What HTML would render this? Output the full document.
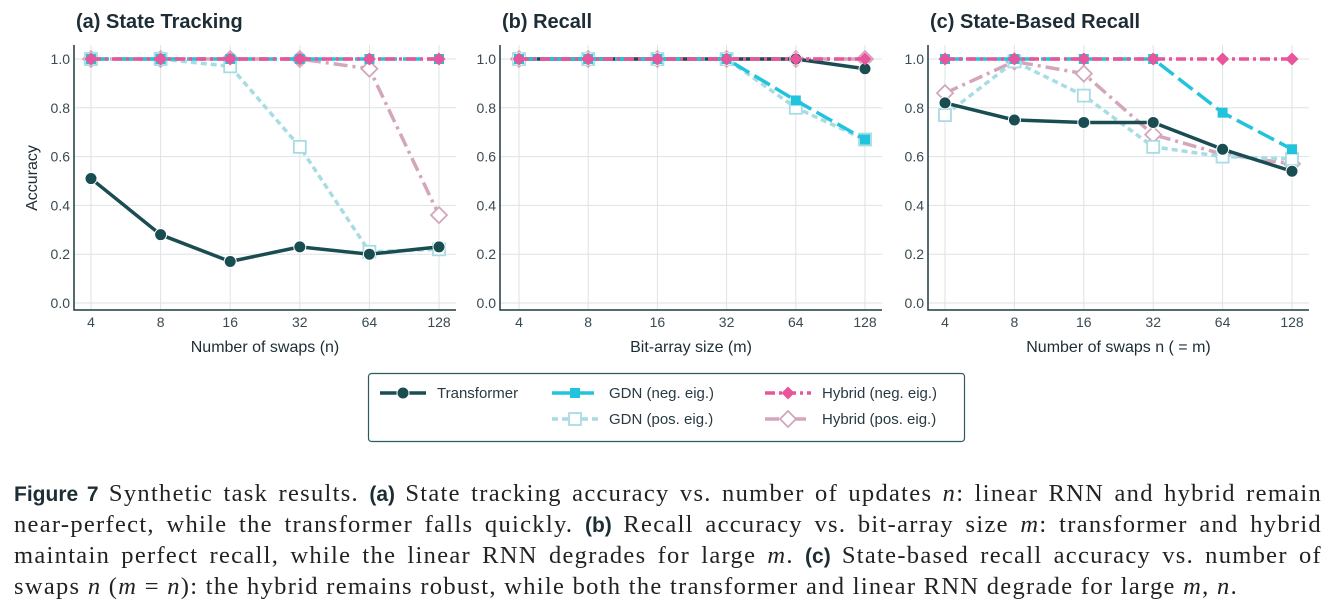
<!DOCTYPE html>
<html><head><meta charset="utf-8">
<style>
body{margin:0;background:#fff;width:1335px;height:608px;overflow:hidden;position:relative;font-family:"Liberation Sans",sans-serif;}
svg{position:absolute;left:0;top:0}
.cap{position:absolute;left:14px;width:1308px;font-family:"Liberation Serif",serif;font-size:24.5px;letter-spacing:1.3px;color:#222;white-space:nowrap;line-height:31px}
.j{text-align:justify;text-align-last:justify;white-space:normal;}
.b{font-family:"Liberation Sans",sans-serif;font-weight:bold;color:#1d2d35;font-size:21px;letter-spacing:0}
i{font-style:italic}
</style></head><body>
<svg id="chart" width="1335" height="608"></svg>
<div class="cap j" style="top:478px"><span class="b">Figure 7</span> Synthetic task results. <span class="b">(a)</span> State tracking accuracy vs. number of updates <i>n</i>: linear RNN and hybrid remain</div>
<div class="cap j" style="top:509px">near-perfect, while the transformer falls quickly. <span class="b">(b)</span> Recall accuracy vs. bit-array size <i>m</i>: transformer and hybrid</div>
<div class="cap j" style="top:540px">maintain perfect recall, while the linear RNN degrades for large <i>m</i>. <span class="b">(c)</span> State-based recall accuracy vs. number of</div>
<div class="cap" style="top:571px">swaps <i>n</i> (<i>m</i> = <i>n</i>): the hybrid remains robust, while both the transformer and linear RNN degrade for large <i>m</i>, <i>n</i>.</div>
<script>
const categories=["4","8","16","32","64","128"];
const yTicks=[0,0.2,0.4,0.6,0.8,1.0];
const titles=["(a) State Tracking","(b) Recall","(c) State-Based Recall"];
const xTitles=["Number of swaps (n)","Bit-array size (m)","Number of swaps n ( = m)"];
const transformerA=[0.51,0.28,0.17,0.23,0.20,0.23];
const gdnNegA=[1,1,1,1,1,1];
const gdnPosA=[1,1,0.97,0.64,0.21,0.22];
const hybNegA=[1,1,1,1,1,1];
const hybPosA=[1,1,1,1,0.96,0.36];
const transformerB=[1,1,1,1,1,0.96];
const gdnNegB=[1,1,1,1,0.83,0.67];
const gdnPosB=[1,1,1,1,0.80,0.67];
const hybNegB=[1,1,1,1,1,1];
const hybPosB=[1,1,1,1,1,1];
const transformerC=[0.82,0.75,0.74,0.74,0.63,0.54];
const gdnNegC=[1,1,1,1,0.78,0.63];
const gdnPosC=[0.77,0.99,0.85,0.64,0.60,0.59];
const hybNegC=[1,1,1,1,1,1];
const hybPosC=[0.86,0.99,0.94,0.69,0.61,0.57];

const NS="http://www.w3.org/2000/svg";
const svg=document.getElementById('chart');
function el(t,a,p){const e=document.createElementNS(NS,t);for(const k in a)e.setAttribute(k,a[k]);(p||svg).appendChild(e);return e;}
const panels=[{l:74,r:456,x0:91,x1:439},{l:500,r:882,x0:519,x1:865},{l:928,r:1309,x0:945,x1:1292}];
const seriesDefs=[
 {name:'hybrid-pos',color:'#d3a6bb',dash:'14,5,3,5',marker:'odiamond'},
 {name:'gdn-pos',color:'#a8dce3',dash:'6,4',marker:'osquare'},
 {name:'transformer',color:'#1a4d52',dash:'',marker:'circle'},
 {name:'gdn-neg',color:'#22c3dc',dash:'18,6',marker:'square'},
 {name:'hybrid-neg',color:'#e8559a',dash:'10,4,3,4',marker:'diamond'}];
const data=[[hybPosA,gdnPosA,transformerA,gdnNegA,hybNegA],[hybPosB,gdnPosB,transformerB,gdnNegB,hybNegB],[hybPosC,gdnPosC,transformerC,gdnNegC,hybNegC]];
function marker(g,m,x,y,c){
 let e;
 if(m==='circle')e=el('circle',{cx:x,cy:y,r:6,fill:c,stroke:'#fff','stroke-width':1},g);
 else if(m==='square')e=el('rect',{x:x-5,y:y-5,width:10,height:10,fill:c},g);
 else if(m==='osquare')e=el('rect',{x:x-6,y:y-6,width:12,height:12,fill:'#fff',stroke:c,'stroke-width':1.8},g);
 else if(m==='diamond')e=el('path',{d:`M${x} ${y-6.5}L${x+6.5} ${y}L${x} ${y+6.5}L${x-6.5} ${y}Z`,fill:c},g);
 else e=el('path',{d:`M${x} ${y-8}L${x+8} ${y}L${x} ${y+8}L${x-8} ${y}Z`,fill:'#fff',stroke:c,'stroke-width':1.8},g);
 
 
}
panels.forEach((p,pi)=>{
 const g=el('g',{});
 
 
 const yS=v=>303-v*244;
 const xS=i=>p.x0+(p.x1-p.x0)*i/(categories.length-1);
 yTicks.forEach(t=>{
  el('line',{x1:p.l,x2:p.r,y1:yS(t),y2:yS(t),stroke:'#dde3e6','stroke-width':1},g);
  const tx=el('text',{x:p.l-4,y:yS(t)+5,'text-anchor':'end','font-size':14,fill:'#3a4a52'},g);
  tx.textContent=t.toFixed(1);
  
  
 });
 categories.forEach((c,i)=>{
  el('line',{x1:xS(i),x2:xS(i),y1:45,y2:310,stroke:'#dde3e6','stroke-width':1},g);
  const tx=el('text',{x:xS(i),y:327,'text-anchor':'middle','font-size':14,fill:'#3a4a52'},g);
  tx.textContent=c;
  
  
 });
 el('path',{d:`M${p.l} 45V310H${p.r}`,fill:'none',stroke:'#1d3a40','stroke-width':1.5},g);
 const tt=el('text',{x:p.l+2,y:28,'font-size':20,'font-weight':'bold',fill:'#1d2d35'},g);
 tt.textContent=titles[pi];
 
 
 const xt=el('text',{x:(p.l+p.r)/2,y:352,'text-anchor':'middle','font-size':16,fill:'#1d2d35'},g);
 xt.textContent=xTitles[pi];
 
 
 seriesDefs.forEach((s,si)=>{
  const vals=data[pi][si];
  const sg=el('g',{},g);
  
  
  const pts=vals.map((v,i)=>xS(i)+','+yS(v)).join(' ');
  const pl=el('polyline',{points:pts,fill:'none',stroke:s.color,'stroke-width':3.5,'stroke-dasharray':s.dash,'stroke-linejoin':'round'},sg);
  
  
  vals.forEach((v,i)=>marker(sg,s.marker,xS(i),yS(v),s.color));
 });
});
const yt=el('text',{x:37,y:178,'text-anchor':'middle','font-size':16,fill:'#1d2d35',transform:'rotate(-90 37 178)'});
yt.textContent='Accuracy';


const lg=el('g',{});


el('rect',{x:368.5,y:373.5,width:596,height:68,rx:3,fill:'#fff',stroke:'#2d5a60','stroke-width':1.2},lg);
const legendItems=[[2,380,393,'Transformer'],[3,552,393,'GDN (neg. eig.)'],[1,552,419,'GDN (pos. eig.)'],[4,765,393,'Hybrid (neg. eig.)'],[0,765,419,'Hybrid (pos. eig.)']];
legendItems.forEach(([si,x,y,label])=>{
 const s=seriesDefs[si];
 const g=el('g',{},lg);
 
 
 el('line',{x1:x,x2:x+46,y1:y,y2:y,stroke:s.color,'stroke-width':3.5,'stroke-dasharray':s.dash},g);
 marker(g,s.marker,x+23,y,s.color);
 const t=el('text',{x:x+57,y:y+5,'font-size':15,fill:'#2a3a42'},g);
 t.textContent=label;
});
</script>
</body></html>
